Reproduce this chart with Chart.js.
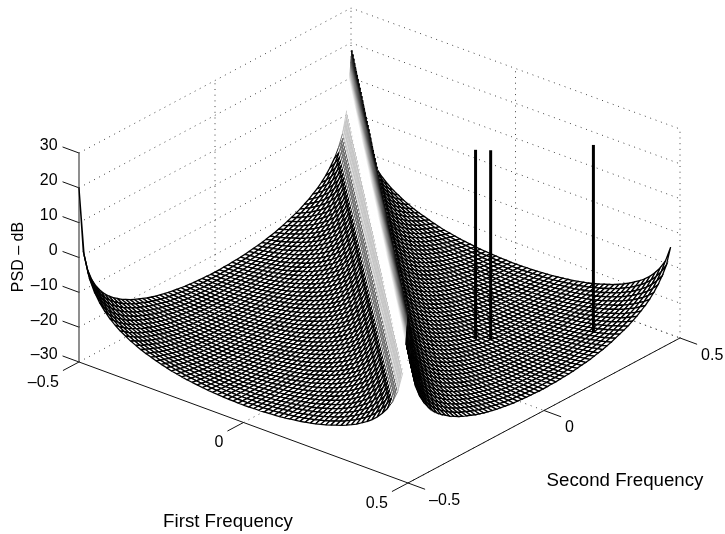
<!DOCTYPE html>
<html>
<head>
<meta charset="utf-8">
<title>PSD surface</title>
<script src="https://cdn.jsdelivr.net/npm/chart.js@4"></script>
<style>
  html, body { margin: 0; padding: 0; background: #fff; }
  canvas { display: block; }
</style>
</head>
<body>
<canvas id="psdChart" width="725" height="534"></canvas>
<script>
// mesh is 64 x 64 on [-0.5, 0.5), height only follows the sum of the two frequency indexes
const gridFreqs = Array.from({ length: 64 }, (_, i) => -0.5 + i / 64);
// dB, index = first index + second index
const psdBySum = [
  20, 1.2, -4.8, -8.3, -10.8, -12.7, -14.3, -15.6, -16.7, -17.6, -18.5, -19.2, -19.9, -20.5, -21, -21.5,
  -22, -22.4, -22.8, -23.1, -23.4, -23.7, -23.9, -24.1, -24.3, -24.5, -24.6, -24.7, -24.8, -24.9, -24.9, -25,
  -25, -25, -24.9, -24.9, -24.8, -24.7, -24.6, -24.5, -24.3, -24.1, -23.9, -23.7, -23.4, -23.1, -22.8, -22.4,
  -22, -21.5, -21, -20.5, -19.9, -19.2, -18.5, -17.6, -16.7, -15.6, -14.3, -12.7, -10.8, -8.3, -4.8, 1.2,
  19, 1.2, -4.8, -8.3, -10.8, -12.7, -14.3, -15.6, -16.7, -17.6, -18.5, -19.2, -19.9, -20.5, -21, -21.5,
  -22, -22.4, -22.8, -23.1, -23.4, -23.7, -23.9, -24.1, -24.3, -24.5, -24.6, -24.7, -24.8, -24.9, -24.9, -25,
  -25, -25, -24.9, -24.9, -24.8, -24.7, -24.6, -24.5, -24.3, -24.1, -23.9, -23.7, -23.4, -23.1, -22.8, -22.4,
  -22, -21.5, -21, -20.5, -19.9, -19.2, -18.5, -17.6, -16.7, -15.6, -14.3, -12.7, -10.8, -8.3, -3.8
];
const ridgeSum = 64;

// the three sharp tones
const toneFirst = [0.206, 0.237, 0.398];
const toneSecond = [0.104, 0.122, 0.305];
const toneLow = [-24, -24, -24];
const toneHigh = [30.3, 30.5, 30];

const freqTicks = [-0.5, 0, 0.5];
const freqTickLabels = ["\u20130.5", "0", "0.5"];
const dbTicks = [-30, -20, -10, 0, 10, 20, 30];
const dbTickLabels = ["\u201330", "\u201320", "\u201310", "0", "10", "20", "30"];

const canvas = document.getElementById("psdChart");
const plotCtx = canvas.getContext("2d");

// fixed view of the box, same as the az/el of the original plot
function project(f1, f2, db) {
  return {
    x: 379.5 + 329 * f1 + 272 * f2,
    y: 245.5 + 121 * f1 - 145 * f2 - 3.483 * db
  };
}

function segment(points, width, color, dash) {
  return {
    data: points.map(p => project(p[0], p[1], p[2])),
    showLine: true,
    pointRadius: 0,
    borderWidth: width,
    borderColor: color,
    borderDash: dash || [],
    fill: false,
    clip: false
  };
}

// the steep wall in front of the ridge fades out: black at the crest, white below it
function ridgeEdgeColor(sums, ctx) {
  const a = sums[ctx.p0DataIndex];
  const b = sums[ctx.p1DataIndex];
  const top = Math.max(a, b);
  const low = Math.min(a, b);
  if (top === ridgeSum && low === ridgeSum - 1) {
    const crest = a > b ? ctx.p0 : ctx.p1;
    const foot = a > b ? ctx.p1 : ctx.p0;
    const g = plotCtx.createLinearGradient(crest.x, crest.y, foot.x, foot.y);
    g.addColorStop(0, "#000");
    g.addColorStop(0.5, "#fff");
    g.addColorStop(1, "#fff");
    return g;
  }
  if (top === ridgeSum - 1) return "#c4c4c4";
  if (top === ridgeSum - 2) return "#666";
  return "#000";
}

const datasets = [];

// chart.js paints dataset 0 last, so everything goes in front to back
toneFirst.forEach((f, i) => {
  datasets.push(segment([[f, toneSecond[i], toneLow[i]], [f, toneSecond[i], toneHigh[i]]], 3, "#000"));
});

const n = gridFreqs.length;
for (let i = n - 2; i >= 0; i--) {
  for (let j = 0; j < n - 1; j++) {
    const k = i + j;
    const sums = [k, k + 1, k + 2, k + 1, k];
    const cell = {
      data: [
        project(gridFreqs[i], gridFreqs[j], psdBySum[k]),
        project(gridFreqs[i + 1], gridFreqs[j], psdBySum[k + 1]),
        project(gridFreqs[i + 1], gridFreqs[j + 1], psdBySum[k + 2]),
        project(gridFreqs[i], gridFreqs[j + 1], psdBySum[k + 1]),
        project(gridFreqs[i], gridFreqs[j], psdBySum[k])
      ],
      showLine: true,
      pointRadius: 0,
      borderWidth: 1.3,
      borderColor: "#000",
      backgroundColor: "#fff",
      fill: "shape",
      clip: false
    };
    if (k >= ridgeSum - 4 && k <= ridgeSum - 1) {
      cell.segment = {
        borderColor: ctx => ridgeEdgeColor(sums, ctx),
        borderWidth: 0.9
      };
    }
    datasets.push(cell);
  }
}

// box axes and tick marks
const axisColor = "#111";
datasets.push(segment([[-0.5, -0.5, -30], [0.5, -0.5, -30]], 1, axisColor));
datasets.push(segment([[0.5, -0.5, -30], [0.5, 0.5, -30]], 1, axisColor));
datasets.push(segment([[-0.5, -0.5, -30], [-0.5, -0.5, 30]], 1.2, "#444"));
freqTicks.forEach(t => {
  datasets.push(segment([[t, -0.5, -30], [t, -0.559, -30]], 1, axisColor));
  datasets.push(segment([[0.5, t, -30], [0.552, t, -30]], 1, axisColor));
});
dbTicks.forEach(t => {
  datasets.push(segment([[-0.5, -0.5, t], [-0.55, -0.5, t]], 1, axisColor));
});

// dotted walls and floor
const dots = [1, 4.7];
const gridColor = "#444";
dbTicks.forEach(t => {
  datasets.push(segment([[-0.5, -0.5, t], [-0.5, 0.5, t], [0.5, 0.5, t]], 1, gridColor, dots));
});
freqTicks.slice(1).forEach(t => {
  datasets.push(segment([[-0.5, t, -30], [-0.5, t, 30]], 1, gridColor, dots));
  datasets.push(segment([[-0.5, t, -30], [0.5, t, -30]], 1, gridColor, dots));
  datasets.push(segment([[t, 0.5, -30], [t, 0.5, 30]], 1, gridColor, dots));
  datasets.push(segment([[t, -0.5, -30], [t, 0.5, -30]], 1, gridColor, dots));
});

const boxText = {
  id: "boxText",
  afterDraw(chart) {
    const { ctx, scales } = chart;
    const at = (f1, f2, db) => {
      const p = project(f1, f2, db);
      return [scales.x.getPixelForValue(p.x), scales.y.getPixelForValue(p.y)];
    };
    ctx.save();
    ctx.fillStyle = "#000";
    ctx.textBaseline = "middle";
    ctx.font = "16px 'Liberation Sans'";

    ctx.textAlign = "right";
    dbTicks.forEach((t, i) => {
      const [x, y] = at(-0.55, -0.5, t);
      ctx.fillText(dbTickLabels[i], x - 5, y - 1);
    });
    freqTicks.forEach((t, i) => {
      const [x, y] = at(t, -0.559, -30);
      ctx.fillText(freqTickLabels[i], x - 4, y + 12);
    });
    ctx.textAlign = "left";
    freqTicks.forEach((t, i) => {
      const [x, y] = at(0.552, t, -30);
      ctx.fillText(freqTickLabels[i], x + 4, y + 11);
    });

    ctx.textAlign = "center";
    ctx.font = "18.7px 'Liberation Sans'";
    ctx.fillText("First Frequency", 228, 522);
    ctx.fillText("Second Frequency", 625, 481);
    ctx.font = "16px 'Liberation Sans'";
    ctx.translate(19, 257);
    ctx.rotate(-Math.PI / 2);
    ctx.fillText("PSD \u2013 dB", 0, 0);
    ctx.restore();
  }
};

new Chart(plotCtx, {
  type: "scatter",
  data: { datasets: datasets },
  options: {
    responsive: false,
    animation: false,
    parsing: false,
    normalized: true,
    layout: { padding: 0 },
    plugins: { legend: { display: false }, tooltip: { enabled: false } },
    events: [],
    scales: {
      x: { display: false, min: 0, max: 725 },
      y: { display: false, min: 0, max: 534, reverse: true }
    }
  },
  plugins: [boxText]
});
</script>
</body>
</html>
